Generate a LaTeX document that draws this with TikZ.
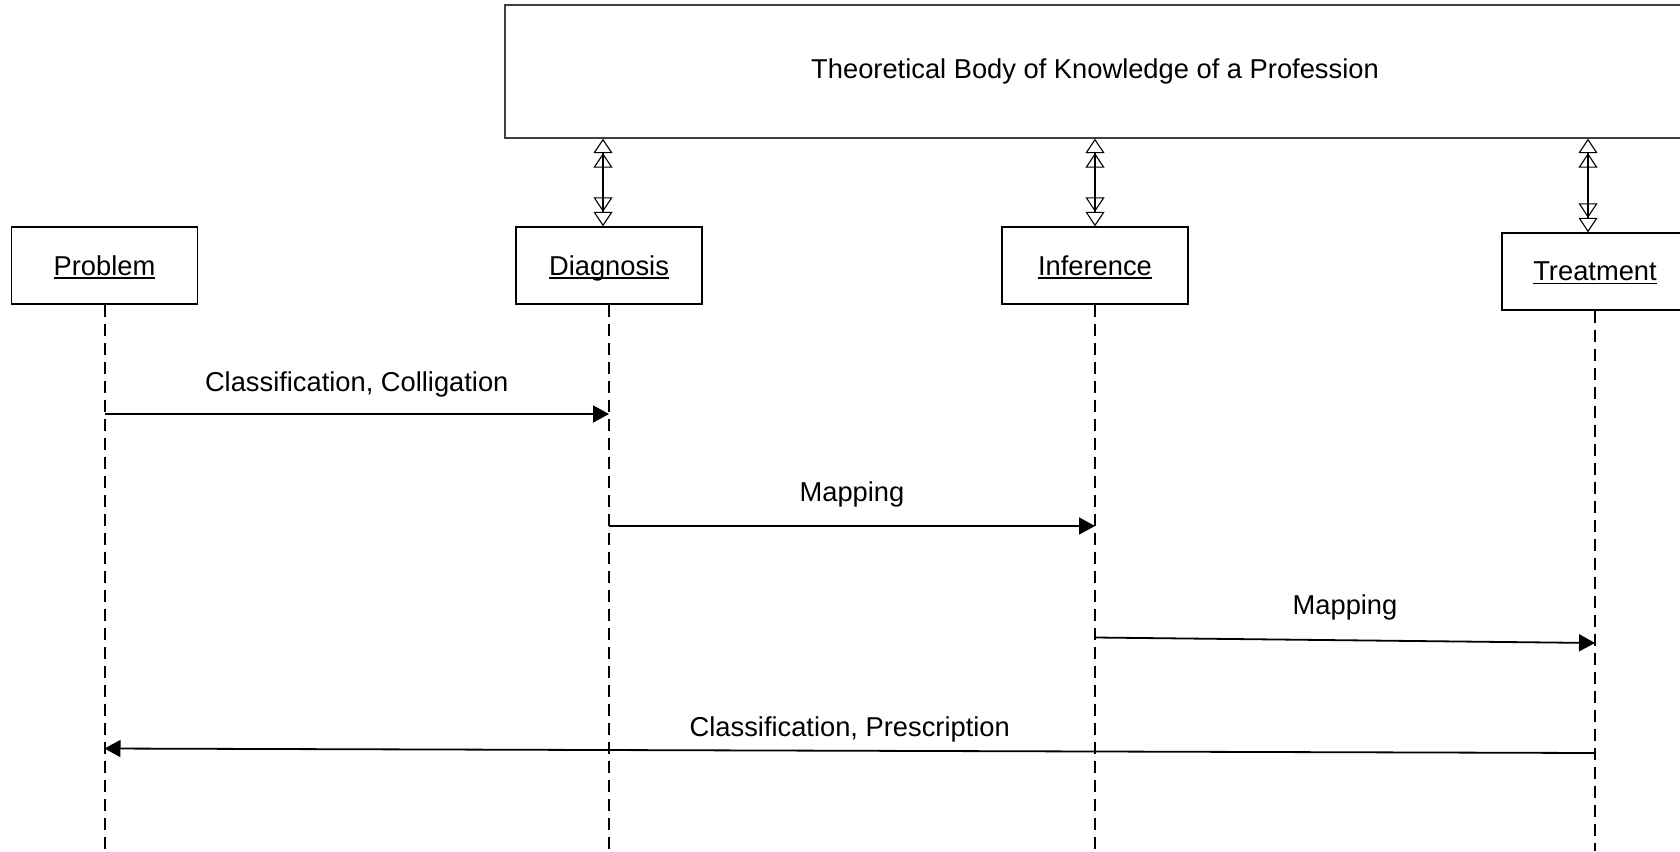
\documentclass[tikz,border=0pt]{standalone}
\usepackage{fontspec}
\setmainfont{Liberation Sans}
\usetikzlibrary{arrows.meta,positioning}
\newcommand{\ulname}[1]{\setbox0\hbox{#1}\rlap{\rule[-3.5pt]{\wd0}{1.7pt}}\box0}
\newcommand{\labelfont}{\fontsize{27.3}{32}\selectfont}
\tikzstyle{lifebox} = [rectangle, draw=black, line width=1.4pt, minimum width=186pt, minimum height=77pt, inner sep=0pt, text depth=0pt, font=\labelfont]
\tikzstyle{theory} = [rectangle, draw=black!75, line width=1.3pt, minimum width=1180pt, minimum height=133pt, inner sep=0pt, font=\labelfont]
\tikzstyle{lifeline} = [draw, line width=2pt, dash pattern=on 12pt off 7pt]
\tikzstyle{msg} = [draw, line width=1.8pt, -{Triangle[length=16pt,width=17pt]}]
\tikzstyle{kedge} = [draw, line width=1.1pt, {Triangle[open,length=14.5pt,width=19pt,sep=0pt] Triangle[open,length=14.5pt,width=19pt]}-{Triangle[open,length=14.5pt,width=19pt,sep=0pt] Triangle[open,length=14.5pt,width=19pt]}]
\tikzstyle{msglabel} = [draw=none, inner sep=0pt, text depth=0pt, font=\labelfont]

\begin{document}
\begin{tikzpicture}[x=1pt, y=-1pt]
\clip (0,0) rectangle (1680,851);

% objects =============================

% nodes
\node[theory] (Theory) at (1095,71.5) {Theoretical Body of Knowledge of a Profession};
\node[lifebox] (Problem) at (104.5,265.5) {\ulname{Problem}};
\node[lifebox] (Diagnosis) at (609,265.5) {\ulname{Diagnosis}};
\node[lifebox] (Inference) at (1095,265.5) {\ulname{Inference}};
\node[lifebox] (Treatment) at (1595,271.5) {\ulname{Treatment}};

% lifeline ends
\coordinate (ProblemEnd) at (104.5,851);
\coordinate (DiagnosisEnd) at (609,851);
\coordinate (InferenceEnd) at (1095,851);
\coordinate (TreatmentEnd) at (1595,851);

% message points
\coordinate (cc1) at (104.5,414);
\coordinate (cc2) at (609,414);
\coordinate (map1) at (609,526);
\coordinate (map2) at (1095,526);
\coordinate (map3) at (1095,637.5);
\coordinate (map4) at (1595,643);
\coordinate (cp1) at (1595,753);
\coordinate (cp2) at (104.5,748.5);

% edges
\path[kedge] ([xshift=-6pt]Diagnosis.north |- Theory.south) -- ([xshift=-6pt]Diagnosis.north);
\path[kedge] (Inference.north |- Theory.south) -- (Inference.north);
\path[kedge] ([xshift=-7pt]Treatment.north |- Theory.south) -- ([xshift=-7pt]Treatment.north);

\path[lifeline] (Problem.south) -- (ProblemEnd);
\path[lifeline] (Diagnosis.south) -- (DiagnosisEnd);
\path[lifeline] (Inference.south) -- (InferenceEnd);
\path[lifeline] (Treatment.south) -- (TreatmentEnd);

% messages
\path[msg] (cc1) -- node[msglabel, midway, above=22pt] (ccl) {Classification, Colligation} (cc2);
\path[msg] (map1) -- node[msglabel, midway, above=23.5pt] (mapl1) {Mapping} (map2);
\path[msg] (map3) -- node[msglabel, midway, above=25pt] (mapl2) {Mapping} (map4);
\path[msg] (cp1) -- node[msglabel, midway, above=13pt] (cpl) {Classification, Prescription} (cp2);

\end{tikzpicture}
\end{document}
